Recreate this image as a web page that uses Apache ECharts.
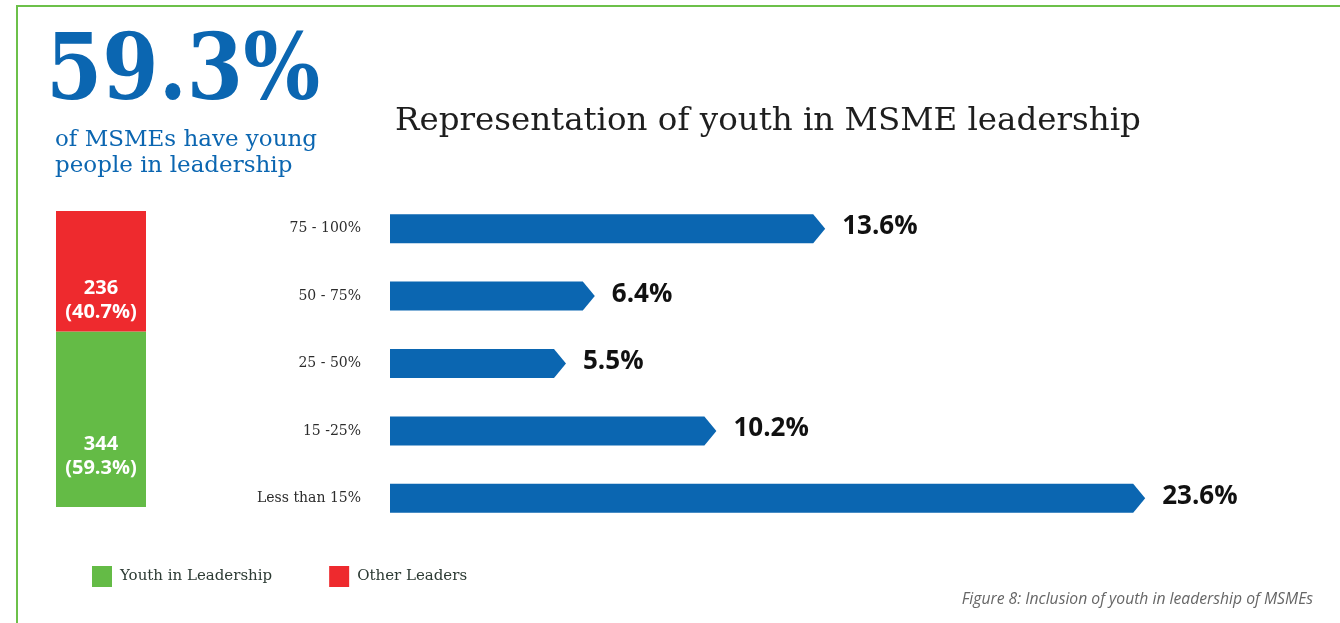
<!DOCTYPE html>
<html>
<head>
<meta charset="utf-8">
<script src="https://cdn.jsdelivr.net/npm/echarts@6/dist/echarts.min.js"></script>
<style>
  html, body { margin: 0; padding: 0; background: #fff; }
  #chart { width: 1340px; height: 623px; }
</style>
</head>
<body>
<div id="chart"></div>
<script>
// Share of youth in leadership, by band (percent of MSMEs)
const bandCategories = ['75 - 100%', '50 - 75%', '25 - 50%', '15 -25%', 'Less than 15%'];
const bandValues = [13.6, 6.4, 5.5, 10.2, 23.6];

// Split of MSMEs by leadership type (counts)
const splitNames = ['Youth in Leadership', 'Other Leaders'];
const splitCounts = [344, 236];

const BLUE = '#0b66b1';
const GREEN = '#64bb46';
const RED = '#ee2a2e';
const SERIF = '"DejaVu Serif", serif';
const SANS = 'Open Sans';

const total = splitCounts.reduce((a, b) => a + b, 0);
const pct = c => (c / total * 100).toFixed(1);

const chart = echarts.init(document.getElementById('chart'));

function arrowBar(params, api) {
  const idx = api.value(0);
  const v = api.value(1);
  const start = api.coord([0, idx]);
  const end = api.coord([v, idx]);
  const y = end[1];
  const h = 29;
  const tip = 12;
  const pts = [
    [start[0], y - h / 2],
    [end[0] - tip, y - h / 2],
    [end[0], y],
    [end[0] - tip, y + h / 2],
    [start[0], y + h / 2]
  ];
  return {
    type: 'group',
    children: [
      { type: 'polygon', shape: { points: pts }, style: { fill: BLUE } },
      {
        type: 'text',
        style: {
          text: v.toFixed(1) + '%',
          x: end[0] + 17, y: y - 2,
          verticalAlign: 'middle',
          fontFamily: SANS, fontWeight: 'bold', fontSize: 26,
          fill: '#111'
        }
      }
    ]
  };
}

const splitLabel = {
  show: true, position: 'inside',
  formatter: p => p.value + '\n(' + pct(p.value) + '%)',
  fontFamily: SANS, fontWeight: 'bold', fontSize: 20, lineHeight: 24, color: '#fff'
};

chart.setOption({
  animation: false,
  title: {
    text: 'Representation of youth in MSME leadership',
    left: 390, top: 100,
    textStyle: { fontFamily: SERIF, fontWeight: 'normal', fontSize: 32.5, color: '#1e1e1e' }
  },
  legend: {
    data: splitNames,
    left: 87, top: 561,
    itemWidth: 20, itemHeight: 21, itemGap: 57,
    icon: 'rect',
    textStyle: { fontFamily: SERIF, fontSize: 15, color: '#2c3a33', padding: [0, 0, 0, 3] },
    selectedMode: false
  },
  grid: [
    { left: 390, top: 195, width: 800, height: 337 },
    { left: 56, top: 211, width: 90, height: 296 }
  ],
  xAxis: [
    { gridIndex: 0, type: 'value', min: 0, max: 25, show: false },
    { gridIndex: 1, type: 'category', data: ['MSMEs'], show: false }
  ],
  yAxis: [
    {
      gridIndex: 0, type: 'category', data: bandCategories, inverse: true,
      axisLine: { show: false }, axisTick: { show: false },
      axisLabel: { margin: 29, fontFamily: SERIF, fontSize: 14, color: '#2c2c2c' }
    },
    { gridIndex: 1, type: 'value', min: 0, max: total, show: false }
  ],
  series: [
    {
      type: 'custom', xAxisIndex: 0, yAxisIndex: 0,
      renderItem: arrowBar,
      encode: { x: 1, y: 0 },
      data: bandValues.map((v, i) => [i, v])
    },
    {
      name: splitNames[0], type: 'bar', stack: 'split', xAxisIndex: 1, yAxisIndex: 1,
      barWidth: 90, itemStyle: { color: GREEN },
      data: [splitCounts[0]],
      label: Object.assign({}, splitLabel, { offset: [0, 37] })
    },
    {
      name: splitNames[1], type: 'bar', stack: 'split', xAxisIndex: 1, yAxisIndex: 1,
      barWidth: 90, itemStyle: { color: RED },
      data: [splitCounts[1]],
      label: Object.assign({}, splitLabel, { offset: [0, 29] })
    }
  ],
  graphic: [
    { type: 'line', shape: { x1: 16, y1: 6, x2: 1340, y2: 6 }, style: { stroke: '#6cc04a', lineWidth: 2 } },
    { type: 'line', shape: { x1: 17, y1: 5, x2: 17, y2: 623 }, style: { stroke: '#6cc04a', lineWidth: 2 } },
    {
      type: 'text', x: 46, y: 29, scaleX: 0.88,
      style: { text: pct(splitCounts[0]) + '%', fontFamily: SERIF, fontWeight: 'bold', fontSize: 92, fill: BLUE }
    },
    {
      type: 'text', left: 55, top: 127,
      style: {
        text: 'of MSMEs have young\npeople in leadership',
        fontFamily: SERIF, fontSize: 23, lineHeight: 26, fill: BLUE
      }
    },
    {
      type: 'text', right: 27, top: 592,
      style: {
        text: 'Figure 8: Inclusion of youth in leadership of MSMEs',
        fontFamily: SANS, fontStyle: 'italic', fontSize: 15.7, fill: '#666'
      }
    }
  ]
});
</script>
</body>
</html>
